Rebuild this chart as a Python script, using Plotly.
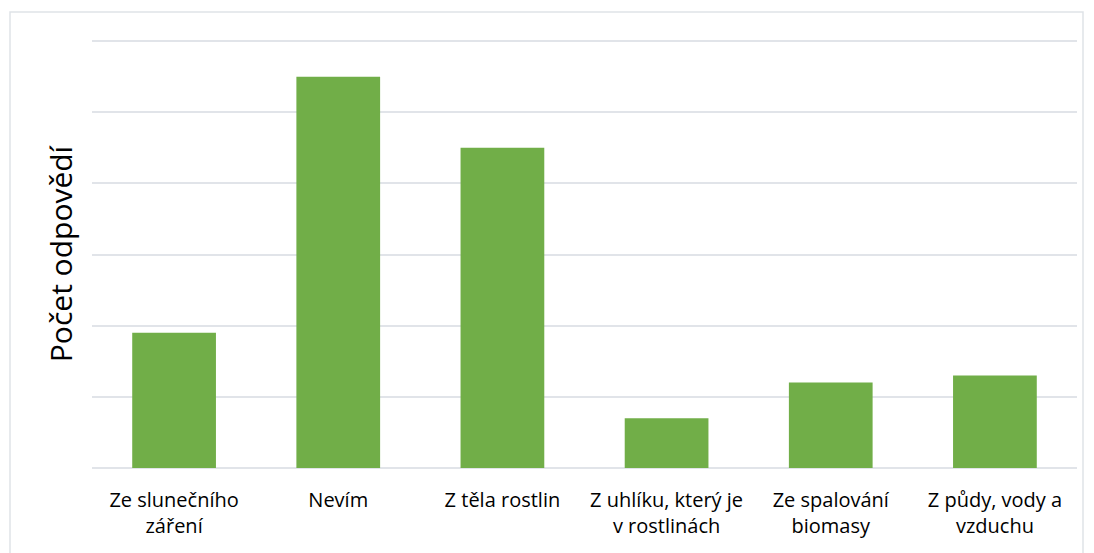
import plotly.graph_objects as go

categories = ["Ze slunečního<br>záření", "Nevím", "Z těla rostlin",
              "Z uhlíku, který je<br>v rostlinách", "Ze spalování<br>biomasy",
              "Z půdy, vody a<br>vzduchu"]
counts = [19, 55, 45, 7, 12, 13]
y_title = "Počet odpovědí"

# page body has an 8px margin, so the figure is drawn at (8, 8)
OFF = 8
W, H = 1094 - OFF, 553 - OFF
ml, mr, mt, mb = 92 - OFF, 17, 41 - OFF, 85
pw, ph = W - ml - mr, H - mt - mb

fig = go.Figure(go.Bar(
    x=categories, y=counts,
    marker=dict(color="#71ae48", line=dict(width=0)),
    hoverinfo="x+y",
))

fig.update_layout(
    width=W, height=H,
    margin=dict(l=ml, r=mr, t=mt - 1, b=mb),
    paper_bgcolor="white", plot_bgcolor="white",
    bargap=0.49,
    showlegend=False,
    font=dict(family="'Open Sans', sans-serif", size=20, color="#000000"),
    shapes=[dict(type="rect", xref="paper", yref="paper",
                 x0=(10 - OFF - ml) / pw, x1=(1083 - OFF - ml) / pw,
                 y0=-(mb + 30) / ph, y1=1 + (mt - 1 - (12 - OFF)) / ph,
                 line=dict(color="#dfe3e8", width=1.5), fillcolor="rgba(0,0,0,0)",
                 layer="below")],
)
fig.update_xaxes(showgrid=False, showline=False, ticks="",
                 tickfont=dict(size=20, color="#000000"), ticklabelstandoff=18)
fig.update_yaxes(range=[0, 60.15], dtick=10, showticklabels=False,
                 showgrid=True, gridcolor="#e1e4e9", gridwidth=1.5,
                 zeroline=True, zerolinecolor="#e1e4e9", zerolinewidth=1.5,
                 showline=False,
                 title=dict(text=y_title, font=dict(size=30, color="#000000"),
                            standoff=9))

fig.write_html("out.html")
